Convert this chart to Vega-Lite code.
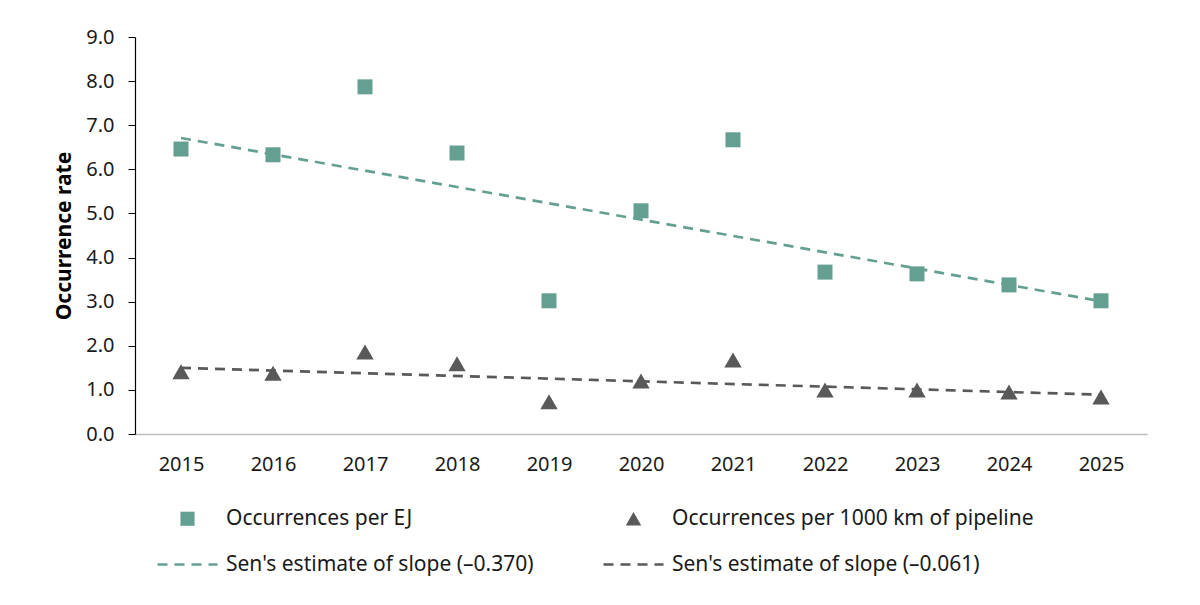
{
  "$schema": "https://vega.github.io/schema/vega-lite/v6.json",
  "width": 1012,
  "height": 397,
  "autosize": {"type": "none"},
  "padding": {"left": 135, "top": 37, "right": 53, "bottom": 171},
  "background": "white",
  "config": {
    "font": "Noto Sans",
    "view": {"stroke": null},
    "axis": {"labelFont": "Noto Sans", "titleFont": "Noto Sans", "labelColor": "#1a1a1a", "titleColor": "#000000", "grid": false},
    "legend": {"labelFont": "Noto Sans"}
  },
  "datasets": {
    "points": [
      {"year": "2015", "value": 6.46, "series": "Occurrences per EJ"},
      {"year": "2016", "value": 6.33, "series": "Occurrences per EJ"},
      {"year": "2017", "value": 7.87, "series": "Occurrences per EJ"},
      {"year": "2018", "value": 6.37, "series": "Occurrences per EJ"},
      {"year": "2019", "value": 3.02, "series": "Occurrences per EJ"},
      {"year": "2020", "value": 5.06, "series": "Occurrences per EJ"},
      {"year": "2021", "value": 6.67, "series": "Occurrences per EJ"},
      {"year": "2022", "value": 3.67, "series": "Occurrences per EJ"},
      {"year": "2023", "value": 3.63, "series": "Occurrences per EJ"},
      {"year": "2024", "value": 3.38, "series": "Occurrences per EJ"},
      {"year": "2025", "value": 3.02, "series": "Occurrences per EJ"},
      {"year": "2015", "value": 1.41, "series": "Occurrences per 1000 km of pipeline"},
      {"year": "2016", "value": 1.38, "series": "Occurrences per 1000 km of pipeline"},
      {"year": "2017", "value": 1.86, "series": "Occurrences per 1000 km of pipeline"},
      {"year": "2018", "value": 1.59, "series": "Occurrences per 1000 km of pipeline"},
      {"year": "2019", "value": 0.73, "series": "Occurrences per 1000 km of pipeline"},
      {"year": "2020", "value": 1.2, "series": "Occurrences per 1000 km of pipeline"},
      {"year": "2021", "value": 1.68, "series": "Occurrences per 1000 km of pipeline"},
      {"year": "2022", "value": 1.0, "series": "Occurrences per 1000 km of pipeline"},
      {"year": "2023", "value": 1.0, "series": "Occurrences per 1000 km of pipeline"},
      {"year": "2024", "value": 0.95, "series": "Occurrences per 1000 km of pipeline"},
      {"year": "2025", "value": 0.84, "series": "Occurrences per 1000 km of pipeline"}
    ],
    "trend": [
      {"year": "2015", "value": 6.71, "series": "Sen's estimate of slope (–0.370)"},
      {"year": "2025", "value": 3.01, "series": "Sen's estimate of slope (–0.370)"},
      {"year": "2015", "value": 1.5, "series": "Sen's estimate of slope (–0.061)"},
      {"year": "2025", "value": 0.89, "series": "Sen's estimate of slope (–0.061)"}
    ]
  },
  "encoding": {
    "x": {
      "field": "year", "type": "ordinal",
      "scale": {"type": "point", "padding": 0.5},
      "axis": {"title": null, "labelAngle": 0, "labelAlign": "center", "labelBaseline": "top", "labelFontSize": 20, "labelPadding": 20, "ticks": false, "domainColor": "#bfbfbf", "domainWidth": 1.5}
    },
    "y": {
      "field": "value", "type": "quantitative",
      "scale": {"domain": [0, 9], "nice": false, "zero": true},
      "axis": {"title": "Occurrence rate", "titleFontSize": 21, "titleFontWeight": "bold", "titlePadding": 11, "values": [0,1,2,3,4,5,6,7,8,9], "format": ".1f", "labelFontSize": 20, "labelPadding": 14, "tickSize": 7, "tickColor": "#000000", "domainColor": "#000000", "domainWidth": 1.2}
    },
    "color": {
      "field": "series", "type": "nominal",
      "scale": {
        "domain": ["Occurrences per EJ", "Sen's estimate of slope (–0.370)", "Occurrences per 1000 km of pipeline", "Sen's estimate of slope (–0.061)"],
        "range": ["#64a092", "#64a092", "#595959", "#595959"]
      },
      "legend": {
        "title": null,
        "orient": "none",
        "legendX": 42,
        "legendY": 471,
        "columns": 2,
        "columnPadding": 64,
        "rowPadding": 24,
        "labelFontSize": 21,
        "labelColor": "#1a1a1a",
        "labelLimit": 500,
        "symbolSize": 900,
        "symbolStrokeWidth": 2.7,
        "labelOffset": 28,
        "encode": {
          "symbols": {
            "update": {
              "shape": {"signal": "datum.index == 0 ? 'square' : datum.index == 2 ? 'triangle-up' : 'stroke'"},
              "size": {"signal": "datum.index == 0 ? 200 : datum.index == 2 ? 240 : 3600"},
              "fill": {"signal": "datum.index == 0 ? '#64a092' : datum.index == 2 ? '#595959' : 'transparent'"},
              "stroke": {"signal": "datum.index < 2 ? '#64a092' : '#595959'"},
              "strokeWidth": {"signal": "datum.index == 0 || datum.index == 2 ? 0 : 2.7"},
              "strokeDash": {"signal": "datum.index == 0 || datum.index == 2 ? [] : [10, 7]"},
              "opacity": {"value": 1}
            }
          }
        }
      }
    }
  },
  "layer": [
    {
      "data": {"name": "trend"},
      "mark": {"type": "line", "strokeWidth": 2.7, "strokeDash": [10, 7]},
      "encoding": {"detail": {"field": "series"}}
    },
    {
      "data": {"name": "points"},
      "transform": [{"filter": "datum.series == 'Occurrences per EJ'"}],
      "mark": {"type": "point", "shape": "square", "filled": true, "opacity": 1, "size": 225}
    },
    {
      "data": {"name": "points"},
      "transform": [{"filter": "datum.series == 'Occurrences per 1000 km of pipeline'"}],
      "mark": {"type": "point", "shape": "triangle-up", "filled": true, "opacity": 1, "size": 300}
    }
  ]
}
